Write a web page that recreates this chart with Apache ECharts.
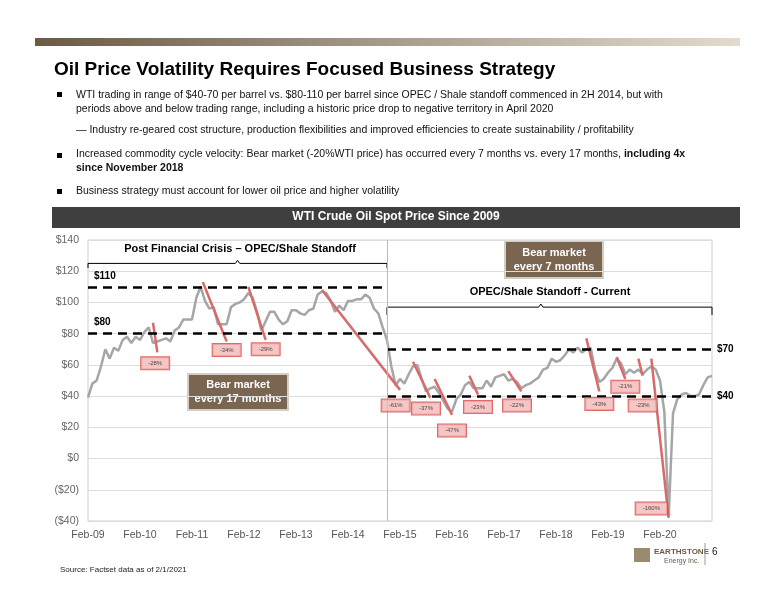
<!DOCTYPE html>
<html><head><meta charset="utf-8">
<script src="https://cdn.jsdelivr.net/npm/echarts@6/dist/echarts.min.js"></script>
<style>body{margin:0;background:#fff}#main{width:776px;height:600px}</style>
</head><body><div id="main"></div>
<script>
// monthly WTI, Feb-09 .. Feb-21 (x = months since Feb-09)
var wti = [39,48,50,59,70,64,71,69,76,78,74,
  78,76,81,84,74,75,76,77,75,82,84,89,
  89,89,103,110,101,96,97,86,86,86,97,99,
  100,102,106,103,94,82,88,94,94,89,86,88,
  95,95,93,92,95,96,105,107,106,101,94,98,
  95,101,101,102,102,105,103,96,93,84,76,59,
  47,51,48,54,59,60,51,43,45,46,42,37,
  32,30,38,41,47,49,45,45,45,50,46,52,
  53,54,50,51,49,45,47,48,50,52,57,58,
  64,62,63,66,70,68,71,68,70,71,57,49,
  51,55,58,64,61,54,57,55,57,54,57,59,
  57,50,30,-37,29,38,41,42,40,40,41,47,
  52,53];
var yearLabels = ['Feb-09','Feb-10','Feb-11','Feb-12','Feb-13','Feb-14','Feb-15','Feb-16','Feb-17','Feb-18','Feb-19','Feb-20'];
// [startMonth, startVal, endMonth, endVal]
var declines = [[15,87,16,68],[26.5,113,32,75],[37,110,41,76],[54,108,72,44],[75,62,79,39],[80,51,84,28],
  [88,53,90,41],[97,56,100,43],[115,77,118,43],[122,65,124,51],[127,64,128,53],[130,64,134,-38]];
// [month, value, text]
var declineLabels = [[15.5,61,'-28%'],[32,69.5,'-34%'],[41,70,'-29%'],[71,34,'-61%'],[78,32,'-37%'],[84,18,'-47%'],
  [90,33,'-23%'],[99,34,'-22%'],[118,35,'-43%'],[124,46,'-21%'],[128,34,'-23%'],[130,-32,'-160%']];
var brace1 = [[0,122],[0,125],[34,125],[34.5,127],[35,125],[69,125],[69,122]];
var brace2 = [[69,92],[69,97],[104,97],[104.5,99],[105,97],[144,97],[144,92]];

var chart = echarts.init(document.getElementById('main'));
var series = [{
  type: 'line', data: wti.map(function (v, i) { return [i, v]; }), showSymbol: false,
  lineStyle: { color: '#a6a6a6', width: 2.5 }, z: 2,
  markLine: {
    silent: true, symbol: 'none',
    lineStyle: { color: '#000', type: [9, 6], width: 2.5 },
    data: [
      [{ coord: [0, 110], label: { show: true, position: 'insideStartTop', formatter: '$110', color: '#000', fontWeight: 'bold', fontSize: 10, distance: [6, 6] } }, { coord: [69, 110] }],
      [{ coord: [0, 80], label: { show: true, position: 'insideStartTop', formatter: '$80', color: '#000', fontWeight: 'bold', fontSize: 10, distance: [6, 6] } }, { coord: [69, 80] }],
      [{ coord: [69, 70] }, { coord: [144, 70], label: { show: true, position: 'end', formatter: '$70', color: '#000', fontWeight: 'bold', fontSize: 10 } }],
      [{ coord: [69, 40] }, { coord: [144, 40], label: { show: true, position: 'end', formatter: '$40', color: '#000', fontWeight: 'bold', fontSize: 10 } }],
      [{ coord: [69, -40], lineStyle: { type: 'solid', width: 1, color: '#bbb' }, label: { show: false } }, { coord: [69, 140] }]
    ]
  }
}];
declines.forEach(function (d) {
  series.push({ type: 'line', data: [[d[0], d[1]], [d[2], d[3]]], showSymbol: false, silent: true,
    lineStyle: { color: '#d96a6a', width: 2.5 }, z: 3 });
});
series.push({ type: 'scatter', symbolSize: 0, silent: true, z: 5,
  data: declineLabels.map(function (d) { return { value: [d[0], d[1]], label: { formatter: d[2] } }; }),
  label: { show: true, position: 'inside', fontSize: 6, color: '#222', backgroundColor: '#f4b6b6',
    borderColor: '#d64545', borderWidth: 1, padding: [3, 7] } });
[brace1, brace2].forEach(function (b) {
  series.push({ type: 'line', data: b, showSymbol: false, silent: true, lineStyle: { color: '#000', width: 1 } });
});

chart.setOption({
  animation: false,
  textStyle: { fontFamily: 'Liberation Sans, Arial' },
  grid: { left: 88, right: 64, top: 240, bottom: 79, show: true, borderColor: '#ccc', borderWidth: 1 },
  xAxis: { type: 'value', min: 0, max: 144, interval: 12,
    axisLabel: { formatter: function (v) { return yearLabels[v / 12] || ''; }, color: '#555', fontSize: 10.5, margin: 9 },
    axisLine: { show: false }, axisTick: { show: false }, splitLine: { show: false } },
  yAxis: { type: 'value', min: -40, max: 140, interval: 20,
    axisLabel: { formatter: function (v) { return v < 0 ? '($' + (-v) + ')' : '$' + v; }, color: '#666', fontSize: 10.5, margin: 9 },
    axisLine: { show: false }, axisTick: { show: false }, splitLine: { lineStyle: { color: '#ddd' } } },
  series: series,
  graphic: [
    { type: 'rect', shape: { x: 35, y: 38, width: 705, height: 8 },
      style: { fill: new echarts.graphic.LinearGradient(0, 0, 1, 0, [{ offset: 0, color: '#6b5a45' }, { offset: 1, color: '#e3dbcf' }]) } },
    { type: 'text', left: 54, top: 60, style: { text: 'Oil Price Volatility Requires Focused Business Strategy', font: 'bold 19px Liberation Sans', fill: '#000' } },
    { type: 'rect', shape: { x: 57, y: 92, width: 5, height: 5 }, style: { fill: '#000' } },
    { type: 'text', left: 76, top: 88, style: { text: 'WTI trading in range of $40-70 per barrel vs. $80-110 per barrel since OPEC / Shale standoff commenced in 2H 2014, but with\nperiods above and below trading range, including a historic price drop to negative territory in April 2020', font: '10.5px Liberation Sans', fill: '#111', lineHeight: 14 } },
    { type: 'text', left: 76, top: 125, style: { text: '— Industry re-geared cost structure, production flexibilities and improved efficiencies to create sustainability / profitability', font: '10.5px Liberation Sans', fill: '#111' } },
    { type: 'rect', shape: { x: 57, y: 153, width: 5, height: 5 }, style: { fill: '#000' } },
    { type: 'text', left: 76, top: 149, style: { rich: { n: { font: '10.5px Liberation Sans', fill: '#111', lineHeight: 14 }, b: { font: 'bold 10.5px Liberation Sans', fill: '#111', lineHeight: 14 } },
      text: '{n|Increased commodity cycle velocity: Bear market (-20%WTI price) has occurred every 7 months vs. every 17 months, }{b|including 4x}\n{b|since November 2018}' } },
    { type: 'rect', shape: { x: 57, y: 189, width: 5, height: 5 }, style: { fill: '#000' } },
    { type: 'text', left: 76, top: 186, style: { text: 'Business strategy must account for lower oil price and higher volatility', font: '10.5px Liberation Sans', fill: '#111' } },
    { type: 'rect', shape: { x: 52, y: 207, width: 688, height: 21 }, style: { fill: '#3f3f3f' } },
    { type: 'text', x: 396, y: 217, style: { text: 'WTI Crude Oil Spot Price Since 2009', font: 'bold 12px Liberation Sans', fill: '#fff', align: 'center', verticalAlign: 'middle' } },
    { type: 'text', x: 240, y: 249, style: { text: 'Post Financial Crisis – OPEC/Shale Standoff', font: 'bold 11px Liberation Sans', fill: '#000', align: 'center', verticalAlign: 'middle' } },
    { type: 'text', x: 550, y: 292, style: { text: 'OPEC/Shale Standoff - Current', font: 'bold 11px Liberation Sans', fill: '#000', align: 'center', verticalAlign: 'middle' } },
    { type: 'rect', shape: { x: 188, y: 374, width: 100, height: 36 }, style: { fill: '#7a6550', stroke: '#d6cdc2', lineWidth: 2 } },
    { type: 'text', x: 238, y: 392, style: { text: 'Bear market\nevery 17 months', font: 'bold 11px Liberation Sans', fill: '#fff', align: 'center', verticalAlign: 'middle', lineHeight: 14 } },
    { type: 'rect', shape: { x: 505, y: 241, width: 98, height: 37 }, style: { fill: '#7a6550', stroke: '#d6cdc2', lineWidth: 2 } },
    { type: 'text', x: 554, y: 260, style: { text: 'Bear market\nevery 7 months', font: 'bold 11px Liberation Sans', fill: '#fff', align: 'center', verticalAlign: 'middle', lineHeight: 14 } },
    { type: 'text', left: 60, top: 566, style: { text: 'Source: Factset data as of 2/1/2021', font: '8px Liberation Sans', fill: '#222' } },
    { type: 'text', left: 654, top: 548, style: { text: 'EARTHSTONE', font: 'bold 8px Liberation Sans', fill: '#6b5a45' } },
    { type: 'text', left: 664, top: 558, style: { text: 'Energy Inc.', font: '7px Liberation Sans', fill: '#6b5a45' } },
    { type: 'rect', shape: { x: 634, y: 548, width: 16, height: 14 }, style: { fill: '#9a8a70' } },
    { type: 'line', shape: { x1: 705, y1: 543, x2: 705, y2: 565 }, style: { stroke: '#999', lineWidth: 1 } },
    { type: 'text', left: 712, top: 547, style: { text: '6', font: '10px Liberation Sans', fill: '#222' } }
  ]
});
</script></body></html>
